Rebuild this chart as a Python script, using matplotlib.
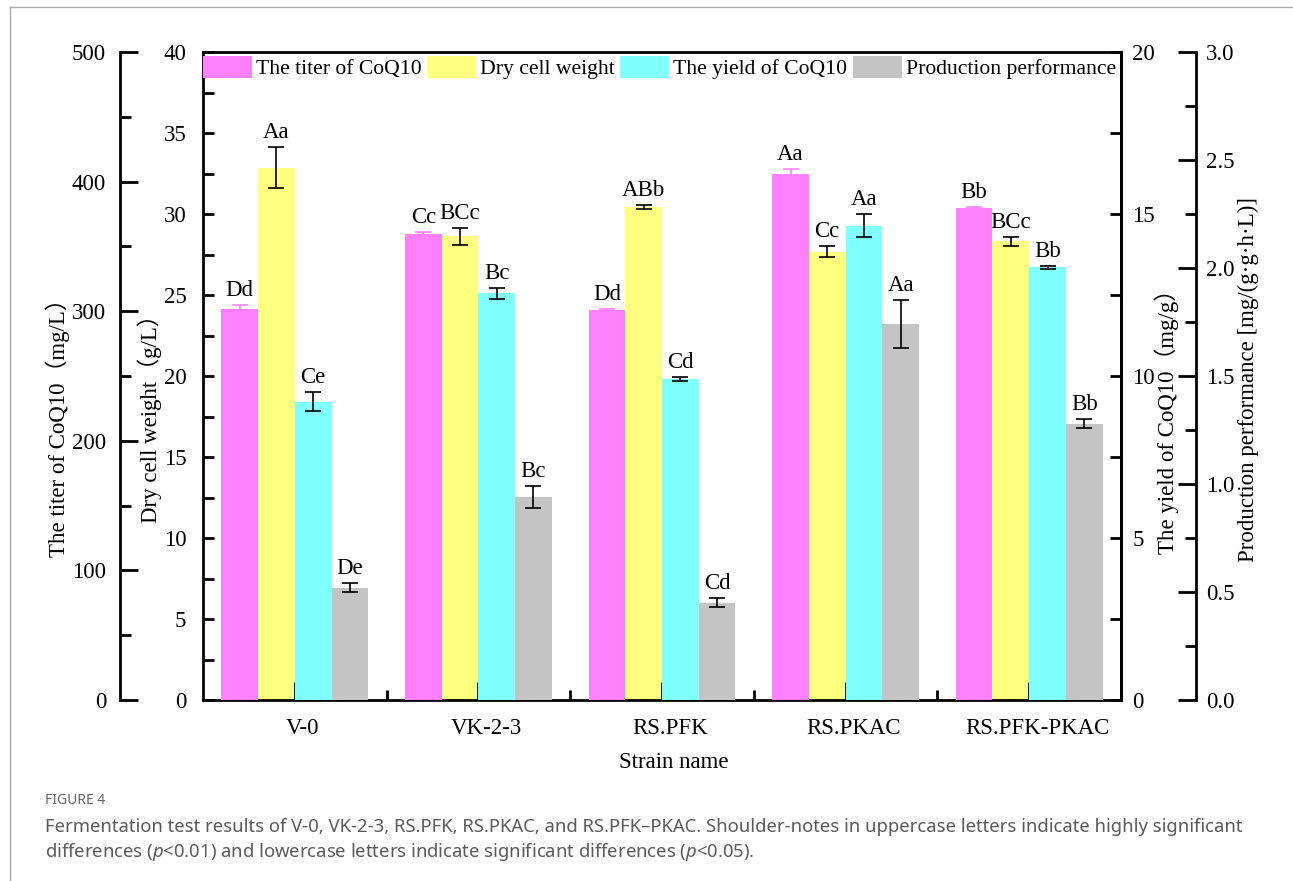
import matplotlib
matplotlib.use("Agg")
import matplotlib.pyplot as plt
import matplotlib.transforms as mtransforms
from matplotlib.lines import Line2D
from matplotlib.ticker import MultipleLocator, FormatStrFormatter, FixedLocator
import numpy as np

plt.rcParams['font.family'] = ['Liberation Serif', 'DejaVu Serif']
plt.rcParams['mathtext.fontset'] = 'custom'
plt.rcParams['mathtext.it'] = 'Noto Sans:italic'
plt.rcParams['mathtext.rm'] = 'Noto Sans'

# ----- data -----
strains = ['V-0', 'VK-2-3', 'RS.PFK', 'RS.PKAC', 'RS.PFK-PKAC']

titer = [302.0, 359.6, 300.9, 405.6, 379.6]          # mg/L
titer_err = [2.5, 1.5, 0.8, 4.1, 0.8]
dcw = [32.86, 28.62, 30.41, 27.67, 28.31]            # g/L
dcw_err = [1.28, 0.54, 0.12, 0.34, 0.26]
yld = [9.21, 12.55, 9.90, 14.64, 13.35]              # mg/g
yld_err = [0.29, 0.17, 0.06, 0.35, 0.05]
perf = [0.52, 0.94, 0.45, 1.74, 1.28]                # mg/(g.g.h.L)
perf_err = [0.02, 0.05, 0.02, 0.11, 0.02]

titer_sig = ['Dd', 'Cc', 'Dd', 'Aa', 'Bb']
dcw_sig = ['Aa', 'BCc', 'ABb', 'Cc', 'BCc']
yld_sig = ['Ce', 'Bc', 'Cd', 'Aa', 'Bb']
perf_sig = ['De', 'Bc', 'Cd', 'Aa', 'Bb']

c_pink = '#FF80FF'
c_yellow = '#FFFF80'
c_cyan = '#80FFFF'
c_gray = '#C4C4C4'

FS = 16.5
LFS = 15.6
W, H = 1293, 881
fig = plt.figure(figsize=(W / 100, H / 100), dpi=100)

# axes box in pixels: left 203, right 1121, top 52, bottom 700
L, R, T, B = 203, 1121, 52, 700
ax = fig.add_axes([L / W, (H - B) / H, (R - L) / W, (B - T) / H])
ax_t = ax.twinx()
ax_y = ax.twinx()
ax_p = ax.twinx()
axw = R - L

x = np.arange(len(strains))
bw = 0.2

series = [
    (ax_t, titer, titer_err, titer_sig, c_pink, c_pink, -1.5, 'The titer of CoQ10'),
    (ax, dcw, dcw_err, dcw_sig, c_yellow, 'black', -0.5, 'Dry cell weight'),
    (ax_y, yld, yld_err, yld_sig, c_cyan, 'black', 0.5, 'The yield of CoQ10'),
    (ax_p, perf, perf_err, perf_sig, c_gray, 'black', 1.5, 'Production performance'),
]

handles = []
for a, vals, errs, sig, col, ecol, off, lab in series:
    xs = x + off * bw
    b = a.bar(xs, vals, bw, yerr=errs, color=col, edgecolor='none', label=lab,
              error_kw=dict(ecolor=ecol, elinewidth=1.2, capsize=6, capthick=1.2))
    handles.append(b)
    for xi, v, e, s in zip(xs, vals, errs, sig):
        a.annotate(s, (xi, v + e), xytext=(0, 6.5), textcoords='offset points',
                   ha='center', va='baseline', fontsize=FS)

# ----- limits -----
ax.set_xlim(-0.5, 4.5)
ax.set_ylim(0, 40)
ax_t.set_ylim(0, 500)
ax_y.set_ylim(0, 20)
ax_p.set_ylim(0, 3.0)

# ----- main axis (dry cell weight) -----
for s in ['left', 'bottom', 'top', 'right']:
    ax.spines[s].set_linewidth(2)
ax.yaxis.set_major_locator(MultipleLocator(5))
ax.yaxis.set_minor_locator(MultipleLocator(2.5))
ax.set_xticks(x)
ax.set_xticklabels(strains)
ax.xaxis.set_minor_locator(FixedLocator([0.5, 1.5, 2.5, 3.5]))
ax.tick_params(axis='x', which='major', direction='in', length=13, width=2,
               labelsize=FS, pad=13, top=False)
ax.tick_params(axis='x', which='minor', direction='in', length=7, width=2, top=False)
ax.tick_params(axis='y', which='both', direction='in', length=8, width=2,
               labelsize=FS, pad=12, right=False)
offset = mtransforms.ScaledTranslation(8 / 100, 0, fig.dpi_scale_trans)
for lbl in ax.get_xticklabels():
    lbl.set_transform(lbl.get_transform() + offset)

ax.set_xlabel('Strain name', fontsize=FS, va='center')
ax.xaxis.set_label_coords((674 - L) / axw, -(763 - B) / (B - T))
ax.set_ylabel('Dry cell weight（g/L）', fontsize=FS, va='center', ha='center',
              family=['Liberation Serif', 'Noto Sans CJK SC'])
ax.yaxis.set_label_coords(-(L - 150) / axw, (B - 413) / (B - T))

# ----- titer axis (outer left) -----
for s in ['top', 'bottom', 'right']:
    ax_t.spines[s].set_visible(False)
ax_t.spines['left'].set_visible(True)
ax_t.spines['left'].set_position(('axes', -(L - 120) / axw))
ax_t.spines['left'].set_linewidth(2)
ax_t.yaxis.set_ticks_position('left')
ax_t.yaxis.set_label_position('left')
ax_t.yaxis.set_major_locator(MultipleLocator(100))
ax_t.yaxis.set_minor_locator(MultipleLocator(50))
ax_t.tick_params(axis='y', which='major', direction='in', length=13, width=2,
                 labelsize=FS, pad=10)
ax_t.tick_params(axis='y', which='minor', direction='in', length=8, width=2)
ax_t.set_ylabel('The titer of CoQ10（mg/L）', fontsize=FS, va='center', ha='center',
                family=['Liberation Serif', 'Noto Sans CJK SC'])
ax_t.yaxis.set_label_coords(-(L - 58) / axw, (B - 422) / (B - T))

# ----- yield axis (inner right) -----
for s in ['top', 'bottom', 'left']:
    ax_y.spines[s].set_visible(False)
ax_y.spines['right'].set_linewidth(2)
ax_y.yaxis.set_major_locator(MultipleLocator(5))
ax_y.yaxis.set_minor_locator(MultipleLocator(2.5))
ax_y.tick_params(axis='y', which='both', direction='in', length=8, width=2,
                 labelsize=FS, pad=8)
ax_y.set_ylabel('The yield of CoQ10（mg/g）', fontsize=FS, va='center', ha='center',
                family=['Liberation Serif', 'Noto Sans CJK SC'])
ax_y.yaxis.set_label_coords((1167 - L) / axw, (B - 416) / (B - T))

# ----- production performance axis (outer right) -----
for s in ['top', 'bottom', 'left']:
    ax_p.spines[s].set_visible(False)
ax_p.spines['right'].set_position(('axes', (1196 - L) / axw))
ax_p.spines['right'].set_linewidth(2)
ax_p.yaxis.set_major_locator(MultipleLocator(0.5))
ax_p.yaxis.set_minor_locator(MultipleLocator(0.25))
ax_p.yaxis.set_major_formatter(FormatStrFormatter('%.1f'))
ax_p.tick_params(axis='y', which='major', direction='in', length=13, width=2,
                 labelsize=FS, pad=7)
ax_p.tick_params(axis='y', which='minor', direction='in', length=8, width=2)
ax_p.set_ylabel('Production performance [mg/(g·g·h·L)]', fontsize=FS,
                va='center', ha='center')
ax_p.yaxis.set_label_coords((1248 - L) / axw, (B - 380) / (B - T))

# ----- legend -----
ax_p.legend(handles=handles, loc='upper left', bbox_to_anchor=(0, 1 - 4 / (B - T)),
            ncol=4, frameon=False, fontsize=LFS, borderaxespad=0, borderpad=0,
            handlelength=2.25, handleheight=1.15, handletextpad=0.2, columnspacing=0.25)

# ----- page decorations and caption -----
fig.add_artist(Line2D([9.5 / W, 9.5 / W], [0, (H - 7) / H], color='#aaaaaa', lw=1))
fig.add_artist(Line2D([9.5 / W, 1], [(H - 7) / H, (H - 7) / H], color='#aaaaaa', lw=1))
fig.text(45 / W, (H - 800) / H, 'FIGURE 4', fontsize=10, color='#666666',
         family='Noto Sans', va='center', weight='semibold')
fig.text(45 / W, (H - 827) / H,
         'Fermentation test results of V-0, VK-2-3, RS.PFK, RS.PKAC, and RS.PFK–PKAC. '
         'Shoulder-notes in uppercase letters indicate highly significant',
         fontsize=13.3, color='#5a5a5a', family='Noto Sans', va='center')
fig.text(45 / W, (H - 852) / H,
         'differences ($p$<0.01) and lowercase letters indicate significant differences ($p$<0.05).',
         fontsize=13.3, color='#5a5a5a', family='Noto Sans', va='center')

fig.savefig('out.png', dpi=100)
